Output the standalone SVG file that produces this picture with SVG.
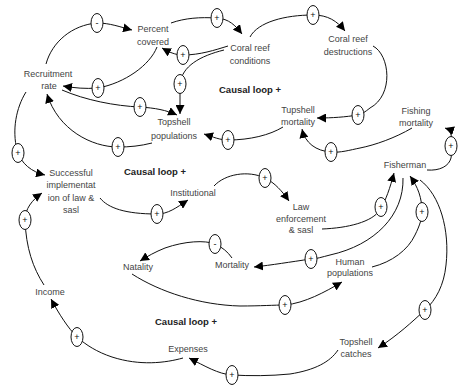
<svg xmlns="http://www.w3.org/2000/svg" width="458" height="390" viewBox="0 0 458 390">
<defs>
<style>
.n{font-family:"Liberation Sans",Arial,sans-serif;font-size:9px;fill:#444;text-anchor:middle}
.cl{font-family:"Liberation Sans",Arial,sans-serif;font-size:9.5px;font-weight:bold;fill:#222;text-anchor:middle}
.c{fill:none;stroke:#111;stroke-width:1;marker-end:url(#ah)}
.p{fill:#fff;stroke:#111;stroke-width:1}
.s{font-family:"Liberation Sans",Arial,sans-serif;font-size:9px;fill:#111;text-anchor:middle}
</style>
<marker id="ah" viewBox="0 0 10 10" refX="10" refY="5" markerWidth="9" markerHeight="9" markerUnits="userSpaceOnUse" orient="auto"><path d="M0,0 L10,5 L0,10 z" fill="#000"/></marker>
</defs>
<rect width="458" height="390" fill="#fff"/>
<g id="connectors">
<path class="c" d="M46,64 C52,42 72,25 97,23 C110,23 120,27 132,30"/>
<path class="c" d="M171,23 C185,18 200,17 217,18 C229,19 235,25 242,34"/>
<path class="c" d="M250,37 C258,22 285,15 313,15 C328,15 337,21 345,31"/>
<path class="c" d="M228,46 C215,50 200,55 183,55 C175,55 169,52 162,48"/>
<path class="c" d="M157,47 C150,65 125,83 98,88 C85,89 75,88 63,86"/>
<path class="c" d="M224,50 C200,56 182,66 180,84 L180,114"/>
<path class="c" d="M62,90 C85,100 115,106 140,107 C155,108 166,110 177,115"/>
<path class="c" d="M373,46 C390,55 394,95 370,108 C365,112 362,114 358,115 C345,117 333,118 317,118"/>
<path class="c" d="M283,127 C270,135 250,140 228,140 C220,140 213,137 204,134"/>
<path class="c" d="M412,128 C395,138 375,145 360,148 C350,150 340,153 331,152 C316,151 305,143 302,129"/>
<path class="c" d="M427,170 C440,171 449,166 451,158 C452,152 452,148 452,145 C452,136 451,130 445,128"/>
<path class="c" d="M152,143 C140,146 130,147 118,147 C92,147 58,130 47,94"/>
<path class="c" d="M26,92 C16,108 12,130 17,150 C21,164 32,172 45,175"/>
<path class="c" d="M100,198 C108,208 125,214 157,214 C168,214 176,208 188,200"/>
<path class="c" d="M214,186 C225,174 248,170 265,178 C275,183 282,191 289,201"/>
<path class="c" d="M322,229 C348,228 372,222 380,210 C386,200 390,188 394,173"/>
<path class="c" d="M372,267 C392,262 408,250 415,235 C420,225 422,218 422,212 C422,198 418,187 410,176"/>
<path class="c" d="M403,178 C404,215 375,245 330,255 C322,257 316,259 311,259 C290,262 272,265 254,267"/>
<path class="c" d="M232,258 C228,252 222,247 215,244 C205,240 185,241 165,248 C155,252 148,256 140,261"/>
<path class="c" d="M44,285 C33,268 26,248 25,220 C25,209 32,200 42,193"/>
<path class="c" d="M132,274 C160,292 200,305 240,306 C260,306 275,305 285,305 C305,303 325,292 342,282"/>
<path class="c" d="M420,180 C440,195 450,230 446,265 C444,285 436,300 425,310 C412,322 398,335 378,348"/>
<path class="c" d="M338,350 C330,362 315,370 290,374 C270,376 250,376 232,375 C218,374 205,366 189,358"/>
<path class="c" d="M183,358 C165,363 140,366 112,357 C97,352 86,345 77,337 C68,328 59,314 51,299"/>
</g>
<g id="polarity">
<ellipse class="p" cx="97" cy="23" rx="6" ry="9.5"/><text class="s" x="97" y="26">-</text>
<ellipse class="p" cx="217" cy="18" rx="6" ry="9.5"/><text class="s" x="217" y="21">+</text>
<ellipse class="p" cx="313" cy="15" rx="6" ry="9.5"/><text class="s" x="313" y="18">+</text>
<ellipse class="p" cx="183" cy="55" rx="6" ry="9.5"/><text class="s" x="183" y="58">+</text>
<ellipse class="p" cx="98" cy="88" rx="6" ry="9.5"/><text class="s" x="98" y="91">+</text>
<ellipse class="p" cx="180" cy="84" rx="6" ry="9.5"/><text class="s" x="180" y="87">+</text>
<ellipse class="p" cx="140" cy="107" rx="6" ry="9.5"/><text class="s" x="140" y="110">+</text>
<ellipse class="p" cx="358" cy="115" rx="6" ry="9.5"/><text class="s" x="358" y="118">+</text>
<ellipse class="p" cx="228" cy="140" rx="6" ry="9.5"/><text class="s" x="228" y="143">+</text>
<ellipse class="p" cx="331" cy="152" rx="6" ry="9.5"/><text class="s" x="331" y="155">+</text>
<ellipse class="p" cx="451" cy="146" rx="6" ry="9.5"/><text class="s" x="451" y="149">+</text>
<ellipse class="p" cx="118" cy="147" rx="6" ry="9.5"/><text class="s" x="118" y="150">+</text>
<ellipse class="p" cx="18" cy="153" rx="6" ry="9.5"/><text class="s" x="18" y="156">+</text>
<ellipse class="p" cx="157" cy="214" rx="6" ry="9.5"/><text class="s" x="157" y="217">+</text>
<ellipse class="p" cx="265" cy="178" rx="6" ry="9.5"/><text class="s" x="265" y="181">+</text>
<ellipse class="p" cx="381" cy="207" rx="6" ry="9.5"/><text class="s" x="381" y="210">+</text>
<ellipse class="p" cx="422" cy="212" rx="6" ry="9.5"/><text class="s" x="422" y="215">+</text>
<ellipse class="p" cx="215" cy="244" rx="6" ry="9.5"/><text class="s" x="215" y="247">-</text>
<ellipse class="p" cx="311" cy="259" rx="6" ry="9.5"/><text class="s" x="311" y="262">+</text>
<ellipse class="p" cx="25" cy="220" rx="6" ry="9.5"/><text class="s" x="25" y="223">+</text>
<ellipse class="p" cx="285" cy="305" rx="6" ry="9.5"/><text class="s" x="285" y="308">+</text>
<ellipse class="p" cx="425" cy="310" rx="6" ry="9.5"/><text class="s" x="425" y="313">+</text>
<ellipse class="p" cx="77" cy="337" rx="6" ry="9.5"/><text class="s" x="77" y="340">+</text>
<ellipse class="p" cx="232" cy="375" rx="6" ry="9.5"/><text class="s" x="232" y="378">+</text>
</g>
<g id="percent-covered"><text class="n" x="153" y="32">Percent</text><text class="n" x="153" y="45">covered</text></g>
<g id="coral-reef-conditions"><text class="n" x="250" y="51">Coral reef</text><text class="n" x="250" y="64">conditions</text></g>
<g id="coral-reef-destructions"><text class="n" x="348" y="42">Coral reef</text><text class="n" x="348" y="55">destructions</text></g>
<g id="recruitment-rate"><text class="n" x="48" y="77">Recruitment</text><text class="n" x="49" y="89">rate</text></g>
<g id="topshell-populations"><text class="n" x="174" y="125">Topshell</text><text class="n" x="174" y="139">populations</text></g>
<g id="tupshell-mortality"><text class="n" x="298" y="113">Tupshell</text><text class="n" x="298" y="125">mortality</text></g>
<g id="fishing-mortality"><text class="n" x="416" y="114">Fishing</text><text class="n" x="416" y="126">mortality</text></g>
<g id="fisherman"><text class="n" x="405" y="168">Fisherman</text></g>
<g id="successful-implementation"><text class="n" x="71" y="176">Successful</text><text class="n" x="71" y="188">implementat</text><text class="n" x="71" y="201">ion of law &amp;</text><text class="n" x="71" y="213">sasl</text></g>
<g id="institutional"><text class="n" x="193" y="196">Institutional</text></g>
<g id="law-enforcement"><text class="n" x="301" y="210">Law</text><text class="n" x="301" y="222">enforcement</text><text class="n" x="301" y="233">&amp; sasl</text></g>
<g id="natality"><text class="n" x="138" y="270">Natality</text></g>
<g id="mortality"><text class="n" x="232" y="268">Mortality</text></g>
<g id="human-populations"><text class="n" x="350" y="265">Human</text><text class="n" x="350" y="276">populations</text></g>
<g id="income"><text class="n" x="50" y="295">Income</text></g>
<g id="expenses"><text class="n" x="188" y="352">Expenses</text></g>
<g id="topshell-catches"><text class="n" x="356" y="345">Topshell</text><text class="n" x="356" y="357">catches</text></g>
<g id="loop-labels"><text class="cl" x="250" y="93">Causal loop +</text><text class="cl" x="155" y="175">Causal loop +</text><text class="cl" x="186" y="325">Causal loop +</text></g>
</svg>
